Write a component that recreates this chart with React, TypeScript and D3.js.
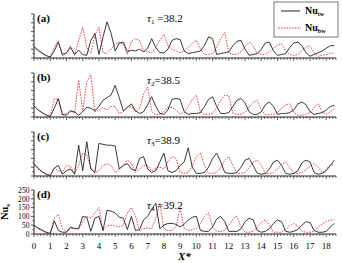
import React from "react";
import * as d3 from "d3";

const X_STEP = 0.25;
const xTicks = d3.range(0, 19, 1);
const yTicks = [0, 50, 100, 150, 200, 250];
const panelLabels = ["(a)", "(b)", "(c)", "(d)"];
const tauSubs = ["1", "2", "3", "4"];
const tauValues = ["38.2", "38.5", "38.9", "39.2"];

const twA = [65,45,28,14,5,40,90,20,30,60,20,45,20,15,100,140,20,120,205,140,40,85,90,35,45,40,50,35,55,110,60,30,30,50,100,110,105,40,25,30,35,40,70,120,110,20,25,30,35,70,95,100,50,15,20,25,50,85,90,40,15,20,25,60,85,90,70,30,10,20,30,40,55,70,70];
const bwA = [60,40,25,12,3,60,100,10,30,70,15,100,175,60,25,130,175,30,25,50,80,90,80,20,95,110,100,40,35,30,60,100,135,70,50,40,30,40,60,85,100,50,20,20,25,60,110,145,30,20,20,35,65,90,70,25,20,20,35,55,75,80,40,20,15,20,40,60,70,30,10,15,20,25,30];
const twB = [65,40,25,12,3,50,105,15,10,35,30,10,30,55,50,35,60,95,110,125,180,110,35,55,75,35,20,30,70,115,60,20,15,40,100,105,100,30,15,20,20,25,60,100,115,60,20,20,25,60,95,105,80,30,15,15,30,70,85,60,15,20,20,25,40,75,85,70,30,15,20,25,40,60,65];
const bwB = [60,40,22,10,3,105,100,10,20,35,20,210,30,200,240,30,40,55,40,60,60,20,30,55,60,30,50,130,170,30,15,15,30,55,55,40,15,25,60,100,125,30,15,15,20,50,95,125,120,20,15,15,25,55,85,95,40,15,15,15,25,50,70,75,25,10,10,15,25,55,75,30,15,30,45];
const twC = [70,45,25,10,3,45,60,10,30,40,10,175,30,195,40,20,185,180,175,175,170,40,60,70,40,30,100,110,40,20,30,80,130,30,20,30,60,80,160,50,15,15,20,50,100,130,80,20,15,15,20,50,90,100,60,15,10,15,40,80,90,60,15,10,15,30,75,90,80,20,10,15,30,60,90];
const bwC = [65,40,22,10,3,45,30,20,60,55,15,60,130,120,50,15,30,60,70,60,20,40,60,90,70,20,40,60,60,30,45,50,40,80,110,100,20,15,20,60,110,130,60,15,15,20,50,90,110,60,15,15,20,45,80,90,60,15,15,20,40,65,80,50,15,15,20,35,55,70,50,20,40,60,65];
const twD = [50,35,22,10,3,75,20,10,10,40,30,30,100,95,15,90,100,20,135,130,120,95,90,25,100,20,25,80,100,140,175,30,50,60,60,55,40,55,80,95,100,20,15,15,40,85,100,70,15,15,15,30,70,90,80,20,10,15,30,60,80,70,15,10,15,25,50,70,65,20,10,10,15,40,60];
const bwD = [45,30,18,8,3,90,110,30,15,30,35,30,70,100,90,120,150,20,45,50,45,40,50,120,150,100,20,30,35,30,90,175,30,20,20,40,150,30,20,25,30,60,100,120,40,15,15,20,50,85,100,40,10,10,15,40,65,80,50,10,10,10,25,45,60,45,15,10,10,15,40,55,70,80,80];

const twSeries = [twA, twB, twC, twD];
const bwSeries = [bwA, bwB, bwC, bwD];

const W = 342;
const H = 263;
const bottoms = [58, 117, 176, 234];
const PH = 44;
const FONT = "'Liberation Serif', 'DejaVu Serif', serif";
const RED = "#e8323c";

export default function App() {
  const x = d3.scaleLinear().domain([0, 18.6]).range([34, 336]);
  const minorX = d3.range(0, 18.61, 0.2);
  const minorY = d3.range(0, 251, 25);

  const panels = bottoms.map((b, i) => {
    const y = d3.scaleLinear().domain([0, 250]).range([b, b - PH]);
    const line = d3
      .line<number>()
      .x((_, j) => x(j * X_STEP))
      .y((v) => y(v));
    const top = b - PH;
    const tauY = [22, 84, 144, 209][i];
    return (
      <g key={i}>
        <path d={line(bwSeries[i]) || ""} fill="none" stroke={RED} strokeWidth={0.9} strokeDasharray="1.6,1.2" />
        <path d={line(twSeries[i]) || ""} fill="none" stroke="#222" strokeWidth={0.9} />
        <line x1={x(0)} x2={x(0)} y1={b} y2={top} stroke="#222" strokeWidth={1} />
        <line x1={x(0)} x2={x(18.6)} y1={b} y2={b} stroke="#222" strokeWidth={1} />
        {minorY.map((t) => (
          <line key={"my" + t} x1={x(0)} x2={x(0) - (t % 50 === 0 ? 3 : 1.5)} y1={y(t)} y2={y(t)} stroke="#222" strokeWidth={0.8} />
        ))}
        {minorX.map((t, k) => (
          <line key={"mx" + k} x1={x(t)} x2={x(t)} y1={b} y2={b + (k % 5 === 0 ? 3 : 1.8)} stroke="#222" strokeWidth={0.7} />
        ))}
        <text x={37} y={top + 8} fontFamily={FONT} fontWeight="bold" fontSize={11}>{panelLabels[i]}</text>
        <text x={147} y={tauY} fontFamily={FONT} fontSize={11}>
          <tspan fontStyle="italic">τ</tspan>
          <tspan fontSize={7} dy={2}>{tauSubs[i]}</tspan>
          <tspan dy={-2}>{(i === 0 || i === 3 ? " " : "") + "=" + tauValues[i]}</tspan>
        </text>
        {i === 3 &&
          yTicks.map((t) => (
            <text key={"yl" + t} x={29.5} y={y(t) + 2.8} textAnchor="end" fontFamily={FONT} fontSize={7.6}>{t}</text>
          ))}
        {i === 3 &&
          xTicks.map((t) => (
            <text key={"xl" + t} x={x(t)} y={b + 15} textAnchor="middle" fontFamily={FONT} fontSize={9}>{t}</text>
          ))}
      </g>
    );
  });

  return (
    <svg width={W} height={H} style={{ position: "absolute", left: 0, top: 0, background: "#fff" }}>
      {panels}
      <text transform="translate(8,212) rotate(-90)" textAnchor="middle" fontFamily={FONT} fontWeight="bold" fontSize={10.5}>
        Nu<tspan fontSize={7} dy={1.5}>s</tspan>
      </text>
      <text x={178} y={260} fontFamily={FONT} fontWeight="bold" fontStyle="italic" fontSize={11}>X*</text>
      <rect x={274} y={2} width={64} height={35} fill="#fff" stroke="#555" strokeWidth={0.8} />
      <line x1={281} x2={300} y1={11} y2={11} stroke="#222" strokeWidth={1} />
      <text x={305} y={14} fontFamily={FONT} fontWeight="bold" fontSize={10}>
        Nu<tspan fontSize={6} dy={2}>tw</tspan>
      </text>
      <line x1={278} x2={301} y1={28} y2={28} stroke={RED} strokeWidth={1} strokeDasharray="1.6,1.2" />
      <text x={305} y={31} fontFamily={FONT} fontWeight="bold" fontSize={10}>
        Nu<tspan fontSize={6} dy={2}>bw</tspan>
      </text>
    </svg>
  );
}
